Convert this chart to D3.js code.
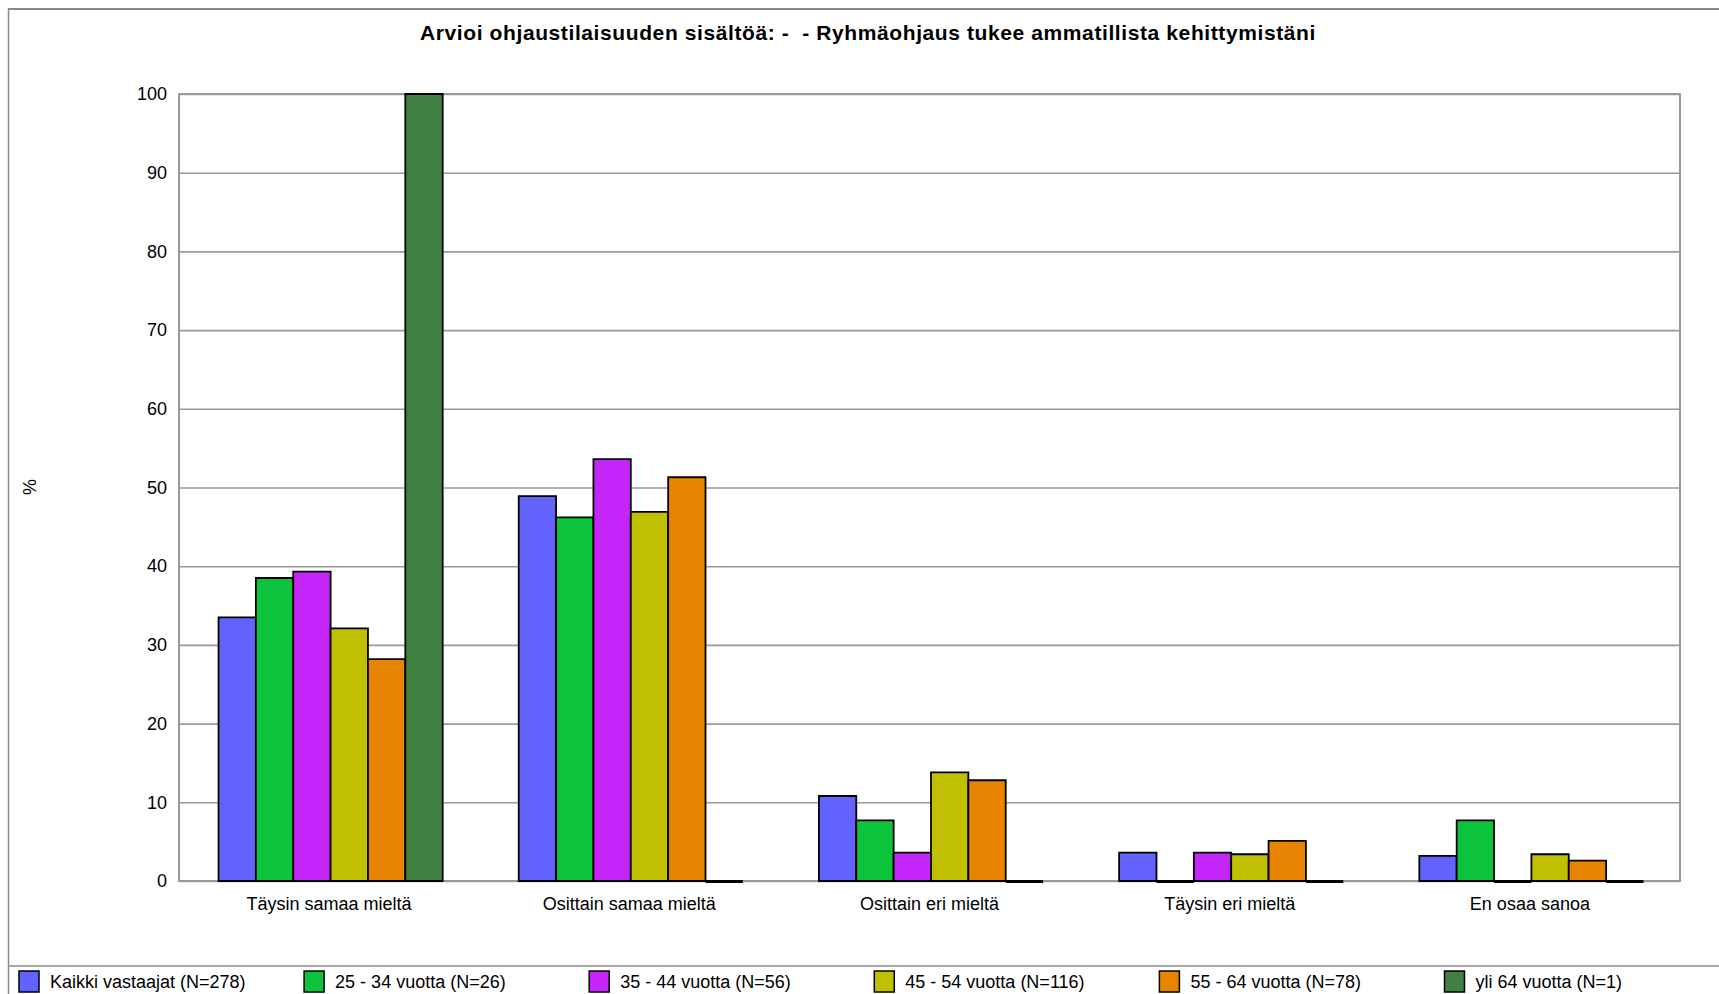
<!DOCTYPE html>
<html>
<head>
<meta charset="utf-8">
<script src="https://cdn.jsdelivr.net/npm/d3@7"></script>
<style>
  body { margin: 0; background: #fff; }
  svg { display: block; font-family: "Liberation Sans", Arial, sans-serif; }
</style>
</head>
<body>
<div id="chart"></div>
<script>
/* data */
var title = "Arvioi ohjaustilaisuuden sisältöä: -  - Ryhmäohjaus tukee ammatillista kehittymistäni";
var categories = ["Täysin samaa mieltä", "Osittain samaa mieltä", "Osittain eri mieltä", "Täysin eri mieltä", "En osaa sanoa"];
var seriesNames = ["Kaikki vastaajat (N=278)", "25 - 34 vuotta (N=26)", "35 - 44 vuotta (N=56)",
                   "45 - 54 vuotta (N=116)", "55 - 64 vuotta (N=78)", "yli 64 vuotta (N=1)"];
var kaikki  = [33.5, 48.9, 10.8, 3.6, 3.2];
var v25_34  = [38.5, 46.2, 7.7, 0, 7.7];
var v35_44  = [39.3, 53.6, 3.6, 3.6, 0];
var v45_54  = [32.1, 46.9, 13.8, 3.4, 3.4];
var v55_64  = [28.2, 51.3, 12.8, 5.1, 2.6];
var yli64   = [100, 0, 0, 0, 0];
var yTicks  = [0, 10, 20, 30, 40, 50, 60, 70, 80, 90, 100];
var colors  = ["#6262ff", "#0cc43c", "#c426fa", "#c0c000", "#e88400", "#408040"];

var seriesValues = [kaikki, v25_34, v35_44, v45_54, v55_64, yli64];

/* layout */
var W = 1719, H = 994;
var plot = { left: 179, right: 1680, top: 94, bottom: 881 };

var svg = d3.select("#chart").append("svg")
    .attr("width", W)
    .attr("height", H);

/* outer frame */
svg.append("line")
    .attr("x1", 8.5).attr("x2", 8.5).attr("y1", 9).attr("y2", H)
    .attr("stroke", "#8a8a8a").attr("stroke-width", 1.5);
svg.append("line")
    .attr("x1", 8).attr("x2", W).attr("y1", 9).attr("y2", 9)
    .attr("stroke", "#8a8a8a").attr("stroke-width", 2);
svg.append("line")
    .attr("x1", 8).attr("x2", W).attr("y1", 966).attr("y2", 966)
    .attr("stroke", "#8a8a8a").attr("stroke-width", 1.5);

/* title */
svg.append("text")
    .attr("x", 868)
    .attr("y", 40)
    .attr("text-anchor", "middle")
    .attr("font-size", "21px")
    .attr("font-weight", "bold")
    .attr("letter-spacing", "0.6px")
    .style("white-space", "pre")
    .text(title);

/* scales */
var x0 = d3.scaleBand()
    .domain(categories)
    .range([plot.left, plot.right]);

var bw = x0.bandwidth();

var x1 = d3.scaleBand()
    .domain(d3.range(seriesNames.length))
    .range([bw / 8 + 2, bw * 7 / 8 + 1]);

var y = d3.scaleLinear()
    .domain([0, 100])
    .range([plot.bottom, plot.top]);

/* grid + y axis */
var yAxis = svg.append("g")
    .attr("transform", "translate(" + plot.left + ",0)")
    .call(d3.axisLeft(y).tickValues(yTicks).tickSize(-(plot.right - plot.left)).tickPadding(12));

yAxis.select(".domain").remove();
yAxis.selectAll(".tick line")
    .attr("stroke", "#9a9a9a")
    .attr("stroke-width", 1.6);
yAxis.selectAll(".tick text")
    .attr("font-size", "18px")
    .attr("font-family", "'Liberation Sans', Arial, sans-serif")
    .attr("fill", "#000");

/* plot border */
svg.append("rect")
    .attr("x", plot.left)
    .attr("y", plot.top)
    .attr("width", plot.right - plot.left)
    .attr("height", plot.bottom - plot.top)
    .attr("fill", "none")
    .attr("stroke", "#9a9a9a")
    .attr("stroke-width", 2);

/* y label */
svg.append("text")
    .attr("transform", "translate(36,487) rotate(-90)")
    .attr("text-anchor", "middle")
    .attr("font-size", "18px")
    .text("%");

/* bars */
var groups = svg.selectAll("g.group")
    .data(categories)
    .enter().append("g")
    .attr("class", "group")
    .attr("transform", function(d) { return "translate(" + x0(d) + ",0)"; });

groups.selectAll("path")
    .data(function(d, ci) {
      return seriesValues.map(function(vals, si) { return { s: si, v: vals[ci] }; });
    })
    .enter().append("path")
    .attr("d", function(d) {
      var xa = x1(d.s), xb = xa + x1.bandwidth();
      var y0 = y(0), yv = y(d.v);
      if (d.v === 0) return "M" + xa + "," + (y0 + 0.5) + "H" + xb;
      return "M" + xa + "," + y0 + "V" + yv + "H" + xb + "V" + y0 + "Z";
    })
    .attr("fill", function(d) { return colors[d.s]; })
    .attr("stroke", "#000")
    .attr("stroke-width", function(d) { return d.v === 0 ? 3 : 1.8; });

/* category axis */
var xAxis = svg.append("g")
    .attr("transform", "translate(0," + plot.bottom + ")")
    .call(d3.axisBottom(x0).tickSize(0).tickPadding(16));

xAxis.select(".domain").remove();
xAxis.selectAll(".tick text")
    .attr("font-size", "18px")
    .attr("font-family", "'Liberation Sans', Arial, sans-serif")
    .attr("fill", "#000");

/* legend */
var legend = svg.selectAll("g.legend")
    .data(seriesNames)
    .enter().append("g")
    .attr("class", "legend")
    .attr("transform", function(d, i) { return "translate(" + (19 + i * 285.1) + ",971)"; });

legend.append("rect")
    .attr("width", 20)
    .attr("height", 21)
    .attr("fill", function(d, i) { return colors[i]; })
    .attr("stroke", "#000")
    .attr("stroke-width", 1.5);

legend.append("text")
    .attr("x", 31)
    .attr("y", 17)
    .attr("font-size", "18px")
    .text(function(d) { return d; });
</script>
</body>
</html>
